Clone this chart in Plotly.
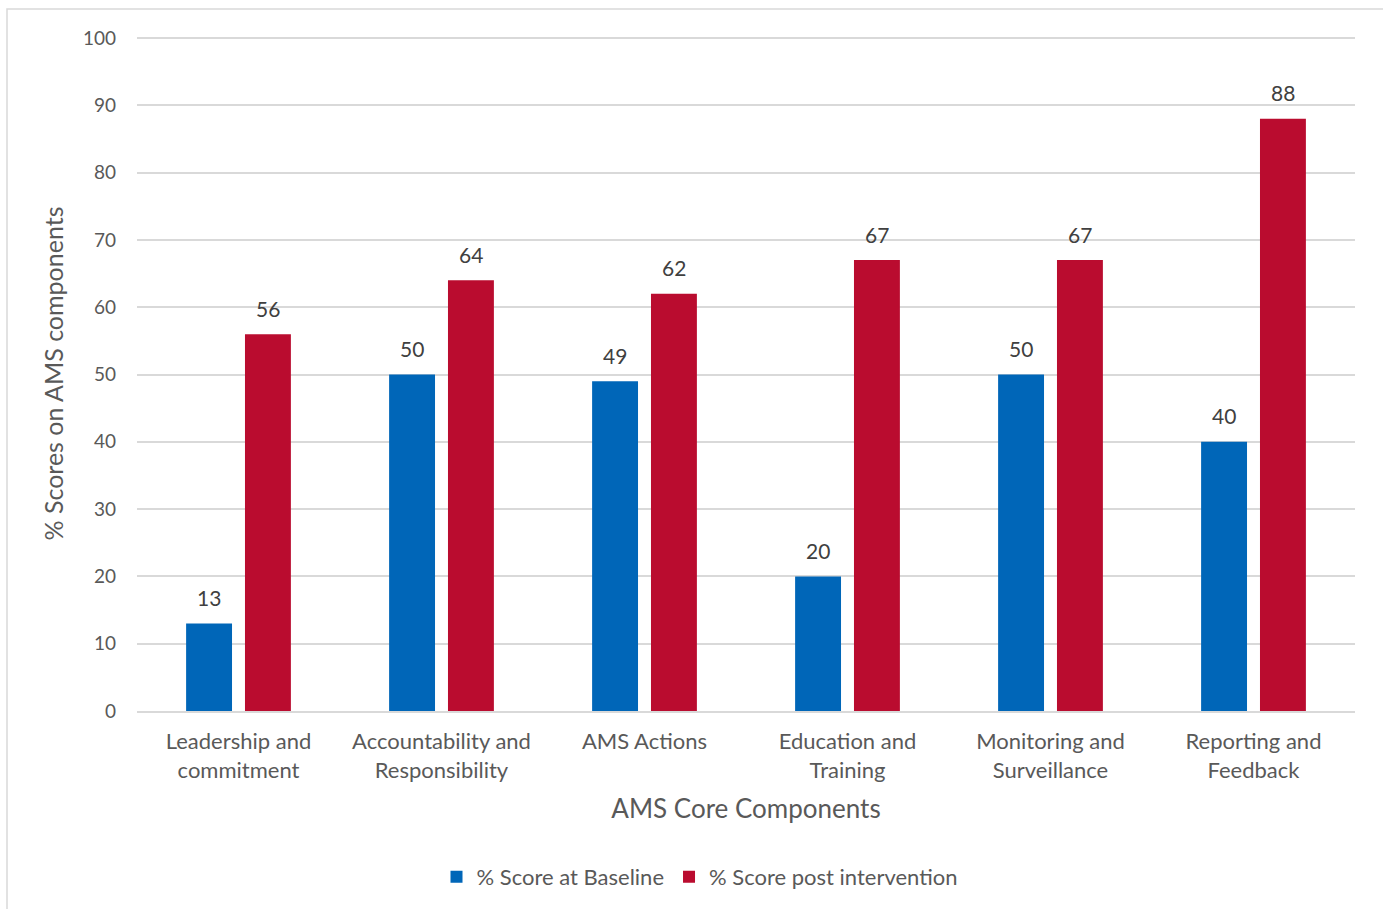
import plotly.graph_objects as go

categories = ["Leadership and<br>commitment", "Accountability and<br>Responsibility", "AMS Actions",
              "Education and<br>Training", "Monitoring and<br>Surveillance", "Reporting and<br>Feedback"]
baseline = [13, 50, 49, 20, 50, 40]
post = [56, 64, 62, 67, 67, 88]
y_ticks = [0, 10, 20, 30, 40, 50, 60, 70, 80, 90, 100]

FONT = "Lato, 'Open Sans', sans-serif"
TXT = "#595959"
LBL = "#404040"

fig = go.Figure()
fig.add_trace(go.Bar(x=categories, y=baseline, name="% Score at Baseline",
                     marker=dict(color="#0066B8", line=dict(width=0))))
fig.add_trace(go.Bar(x=categories, y=post, name="% Score post intervention",
                     marker=dict(color="#BA0C2F", line=dict(width=0))))

W, H = 1383, 909
L, R, T, B = 137, 28, 36, 197
pw, ph = W - L - R, H - T - B
slot_shift = 29.5

annotations = []
for cat, v in zip(categories, baseline):
    annotations.append(dict(x=cat, y=v, xref="x", yref="y", text=str(v), showarrow=False,
                            xshift=-slot_shift, yshift=26, yanchor="middle",
                            font=dict(size=21, color=LBL, family=FONT)))
for cat, v in zip(categories, post):
    annotations.append(dict(x=cat, y=v, xref="x", yref="y", text=str(v), showarrow=False,
                            xshift=slot_shift, yshift=26, yanchor="middle",
                            font=dict(size=21, color=LBL, family=FONT)))

fig.update_layout(
    width=W, height=H,
    margin=dict(l=L, r=R, t=T, b=B),
    paper_bgcolor="white", plot_bgcolor="white",
    barmode="group", bargap=0.42, bargroupgap=0.22,
    font=dict(family=FONT, color=TXT, size=19),
    showlegend=True,
    legend=dict(orientation="h", x=(700 - L) / pw, xanchor="center",
                y=(H - B - 877) / ph, yanchor="middle",
                font=dict(size=22, color=TXT), itemwidth=30, traceorder="normal"),
    annotations=annotations,
    xaxis=dict(showgrid=False, showline=True, linecolor="#D9D9D9", linewidth=2,
               tickfont=dict(size=22, color=TXT), ticklabelstandoff=10,
               title=dict(text="AMS Core Components", font=dict(size=26, color=TXT), standoff=18)),
    yaxis=dict(range=[0, 100.3], tickvals=y_ticks, showgrid=True, gridcolor="#D9D9D9",
               gridwidth=1.5, zeroline=False, showline=False,
               ticklabelstandoff=20,
               tickfont=dict(size=19, color=TXT),
               title=dict(text="% Scores on AMS components", font=dict(size=25, color=TXT), standoff=12)),
    shapes=[dict(type="rect", xref="paper", yref="paper",
                 x0=(7 - L) / pw, x1=(W + 20 - L) / pw,
                 y0=(H - B - (H + 20)) / ph, y1=(H - B - 9) / ph,
                 line=dict(color="#D9D9D9", width=1.5), layer="below")],
)

fig.write_html("out.html")
